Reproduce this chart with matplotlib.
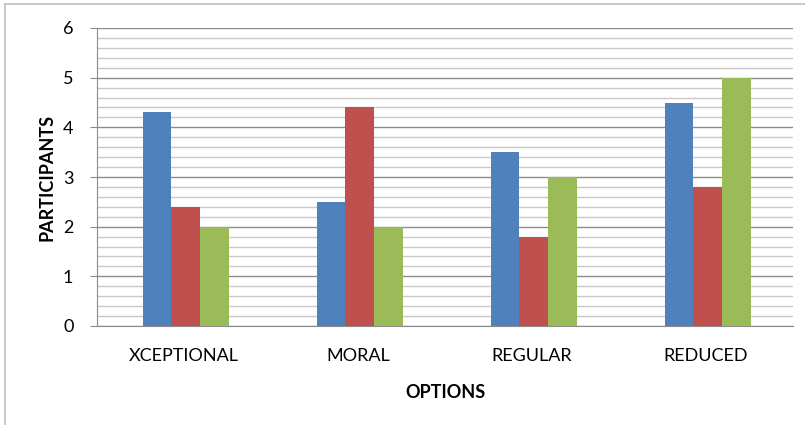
import matplotlib.pyplot as plt
import numpy as np
from matplotlib.lines import Line2D

categories = ["XCEPTIONAL", "MORAL", "REGULAR", "REDUCED"]
series1 = [4.3, 2.5, 3.5, 4.5]
series2 = [2.4, 4.4, 1.8, 2.8]
series3 = [2.0, 2.0, 3.0, 5.0]
colors = ["#4F81BD", "#C0504D", "#9BBB59"]

plt.rcParams['font.family'] = ['Lato', 'DejaVu Sans']

fig = plt.figure(figsize=(8.05, 4.25), dpi=100)
ax = fig.add_axes([97 / 805, 1 - 326 / 425, (793 - 97) / 805, (326 - 28) / 425])

x = np.arange(len(categories))
w = 0.165
for i, (vals, c) in enumerate(zip([series1, series2, series3], colors)):
    ax.bar(x + (i - 1) * w + 0.01, vals, width=w, color=c, zorder=3)

ax.set_xlim(-0.5, 3.5)
ax.set_ylim(0, 6)
ax.set_yticks(range(7))
ax.set_yticks(np.arange(0, 6.01, 0.2), minor=True)
ax.grid(axis='y', which='major', color='#8c8c8c', linewidth=1.0, zorder=0)
ax.grid(axis='y', which='minor', color='#c8c8c8', linewidth=1.0, zorder=0)
ax.tick_params(axis='y', which='minor', length=0)
ax.tick_params(axis='y', which='major', length=5, color='#8c8c8c', labelsize=13, pad=12)
ax.set_xticks(x)
ax.set_xticklabels(categories)
ax.tick_params(axis='x', length=0, labelsize=13, pad=16)

for s in ['top', 'right']:
    ax.spines[s].set_visible(False)
for s in ['left', 'bottom']:
    ax.spines[s].set_color('#8c8c8c')

ax.set_ylabel("PARTICIPANTS", fontsize=13, fontweight='bold', labelpad=5)
ax.set_xlabel("OPTIONS", fontsize=13, fontweight='bold', labelpad=14)

# outer chart border
fig.add_artist(Line2D([5 / 805, 1], [1 - 4 / 425, 1 - 4 / 425], color='#bfbfbf', linewidth=1.2))
fig.add_artist(Line2D([5 / 805, 5 / 805], [0, 1 - 4 / 425], color='#bfbfbf', linewidth=1.2))

fig.savefig("out.png", dpi=100)
